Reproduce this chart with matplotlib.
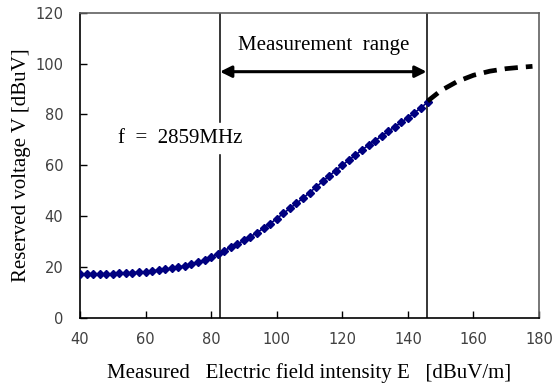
import numpy as np
import matplotlib
matplotlib.use("Agg")
import matplotlib.pyplot as plt

# measured curve (every 2 dBuV/m)
E_meas = list(range(40, 148, 2))
V_meas = [17.2, 17.2, 17.2, 17.2, 17.2, 17.3, 17.4, 17.5, 17.7, 17.9,
          18.1, 18.4, 18.7, 19.0, 19.4, 19.9, 20.4, 21.1, 21.8, 22.7,
          23.7, 25.0, 26.4, 27.7, 29.0, 30.4, 31.9, 33.5, 35.2, 37.0,
          39.0, 41.0, 43.0, 45.0, 47.0, 49.2, 51.4, 53.6, 55.8, 57.9,
          60.0, 62.0, 64.0, 66.0, 67.9, 69.7, 71.5, 73.3, 75.1, 76.9,
          78.7, 80.6, 82.6, 84.8]

# extrapolated saturation part
E_ext = [146, 150, 155, 160, 165, 170, 175, 178]
V_ext = [85.2, 89.3, 92.9, 95.4, 97.0, 98.0, 98.6, 98.9]

range_lo, range_hi = 82.7, 145.7
freq_text = "f  =  2859MHz"

serif = "Liberation Serif"
sans = "DejaVu Sans"

fig = plt.figure(figsize=(5.54, 3.89), dpi=100)
ax = fig.add_axes([0.1444, 0.1833, 0.8286, 0.7840])

ax.plot(E_meas, V_meas, color="#000080", marker="D", markersize=3.8,
        linewidth=1.2, zorder=3)
ax.plot(E_ext, V_ext, color="black", linewidth=3.4, dashes=(2.8, 1.7),
        zorder=3)

ax.axvline(range_lo, color="black", linewidth=1.1, zorder=2)
ax.axvline(range_hi, color="black", linewidth=1.1, zorder=2)

ax.annotate("", xy=(range_lo, 96.8), xytext=(range_hi, 96.8),
            arrowprops=dict(arrowstyle="<|-|>", color="black", lw=2.2,
                            mutation_scale=17, shrinkA=0, shrinkB=0))
ax.text(88.2, 107, "Measurement  range",
        ha="left", va="center", fontsize=15, family=serif)
ax.text(51.6, 70.7, freq_text, ha="left", va="center", fontsize=15,
        family=serif, backgroundcolor="white", zorder=4)

ax.set_xlim(40, 180)
ax.set_ylim(0, 120)
ax.set_xticks(range(40, 181, 20))
ax.set_yticks(range(0, 121, 20))
ax.tick_params(direction="in", length=5, width=1, top=False, right=False,
               labelsize=10.5, labelcolor="#404040")
ax.tick_params(axis="x", pad=10)
ax.tick_params(axis="y", pad=12)
for lbl in ax.get_xticklabels() + ax.get_yticklabels():
    lbl.set_family(sans)

for side in ["left", "bottom"]:
    ax.spines[side].set_color("black")
    ax.spines[side].set_linewidth(1.2)
for side in ["top", "right"]:
    ax.spines[side].set_color("#606060")
    ax.spines[side].set_linewidth(1.2)

ax.set_xlabel("Measured   Electric field intensity E   [dBuV/m]",
              fontsize=15, family=serif, labelpad=12)
ax.set_ylabel("Reserved voltage V [dBuV]", fontsize=15, family=serif,
              labelpad=3)

fig.savefig("out.png", dpi=100)
